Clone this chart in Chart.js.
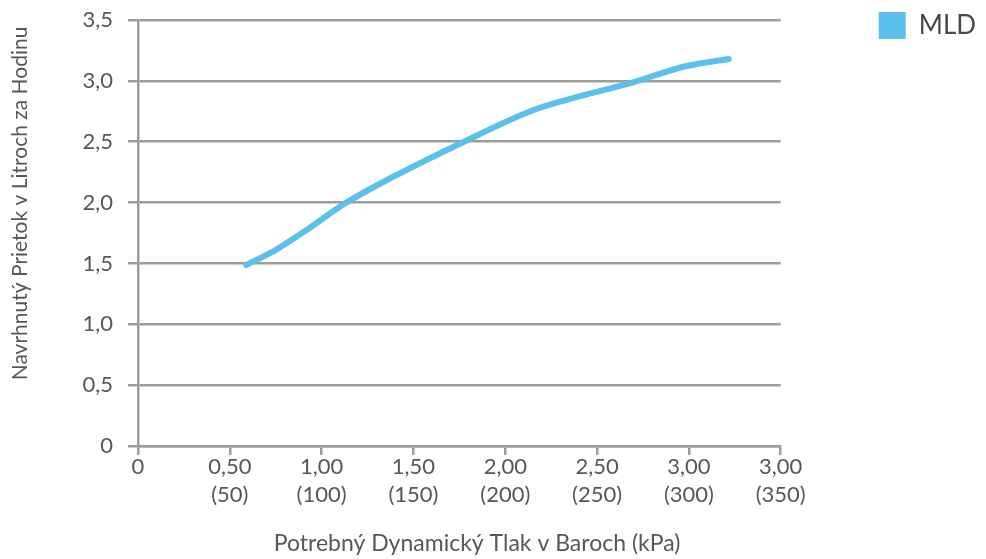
<!DOCTYPE html>
<html>
<head>
<meta charset="utf-8">
<script src="https://cdn.jsdelivr.net/npm/chart.js@4/dist/chart.umd.min.js"></script>
<style>
  html, body { margin: 0; padding: 0; background: #fff; }
  #wrap { width: 986px; height: 559px; position: relative; }
</style>
</head>
<body>
<div id="wrap"><canvas id="flow-chart"></canvas></div>
<script>
// values
var pressure = [0.589, 0.749, 0.918, 1.124, 1.387, 1.762, 2.137, 2.325, 2.70, 2.98, 3.217];
var flow     = [1.487, 1.61, 1.775, 1.99, 2.21, 2.49, 2.75, 2.84, 2.99, 3.12, 3.18];

var xTickLabels = ['0', ['0,50', '(50)'], ['1,00', '(100)'], ['1,50', '(150)'], ['2,00', '(200)'],
                   ['2,50', '(250)'], ['3,00', '(300)'], ['3,00', '(350)']];
var yTickLabels = ['0', '0,5', '1,0', '1,5', '2,0', '2,5', '3,0', '3,5'];

var seriesName = 'MLD';
var xTitle = 'Potrebný Dynamický Tlak v Baroch (kPa)';
var yTitle = 'Navrhnutý Prietok v Litroch za Hodinu';

var gridGray = '#a09c98';
var textGray = '#575757';
var lineBlue = '#5bc0ec';
var fontFam = "Lato, 'Open Sans', sans-serif";

var points = pressure.map(function(p, i){ return {x: p, y: flow[i]}; });

var ctx = document.getElementById('flow-chart');
var myChart = new Chart(ctx, {
    type: 'line',
    data: {
        datasets: [{
            label: seriesName,
            data: points,
            borderColor: lineBlue,
            backgroundColor: lineBlue,
            borderWidth: 6,
            borderCapStyle: 'round',
            borderJoinStyle: 'round',
            pointRadius: 0,
            pointHoverRadius: 0,
            cubicInterpolationMode: 'monotone',
            fill: false
        }]
    },
    options: {
        responsive: true,
        maintainAspectRatio: false,
        animation: false,
        layout: { padding: 0 },
        plugins: {
            tooltip: { enabled: false },
            legend: {
                position: 'right',
                align: 'start',
                labels: {
                    boxWidth: 27,
                    boxHeight: 27,
                    padding: 12,
                    color: '#4a4a4a',
                    font: { family: fontFam, size: 26 },
                    generateLabels: function(chart){
                        var items = Chart.defaults.plugins.legend.labels.generateLabels(chart);
                        items.forEach(function(it){ it.lineWidth = 0; it.strokeStyle = 'rgba(0,0,0,0)'; });
                        return items;
                    }
                }
            }
        },
        scales: {
            x: {
                type: 'linear',
                position: 'bottom',
                min: 0,
                max: 3.5,
                afterFit: function(scale){ scale.height = 113; },
                grid: {
                    drawOnChartArea: false,
                    drawTicks: true,
                    tickLength: 9,
                    color: gridGray,
                    lineWidth: 2.5
                },
                border: { display: true, color: gridGray, width: 2.5 },
                ticks: {
                    stepSize: 0.5,
                    autoSkip: false,
                    maxRotation: 0,
                    padding: -2,
                    color: textGray,
                    font: { family: fontFam, size: 22, lineHeight: 1.27 },
                    callback: function(value, index){ return xTickLabels[index]; }
                },
                title: {
                    display: true,
                    text: '      ' + xTitle,
                    color: textGray,
                    font: { family: fontFam, size: 23 },
                    padding: { top: 0, bottom: 2 }
                }
            },
            y: {
                type: 'linear',
                position: 'left',
                min: 0,
                max: 3.5,
                afterFit: function(scale){ scale.width = 138; },
                grid: {
                    drawOnChartArea: true,
                    drawTicks: true,
                    tickLength: 10,
                    color: gridGray,
                    lineWidth: 2.5
                },
                border: { display: true, color: gridGray, width: 2.5 },
                ticks: {
                    stepSize: 0.5,
                    padding: 15,
                    color: textGray,
                    font: { family: fontFam, size: 22, lineHeight: 0.45 },
                    callback: function(value, index){ return yTickLabels[index]; }
                },
                title: {
                    display: true,
                    text: '           ' + yTitle,
                    color: textGray,
                    font: { family: fontFam, size: 21 },
                    padding: { top: 8, bottom: 0 }
                }
            },
            // empty spacer axes so the plot area sits where the picture has it
            yGap: {
                type: 'linear',
                position: 'right',
                display: true,
                afterFit: function(scale){ scale.width = 86; },
                grid: { display: false },
                border: { display: false },
                ticks: { display: false }
            },
            xGap: {
                type: 'linear',
                position: 'top',
                display: true,
                afterFit: function(scale){ scale.height = 20; },
                grid: { display: false },
                border: { display: false },
                ticks: { display: false }
            }
        }
    }
});
</script>
</body>
</html>
